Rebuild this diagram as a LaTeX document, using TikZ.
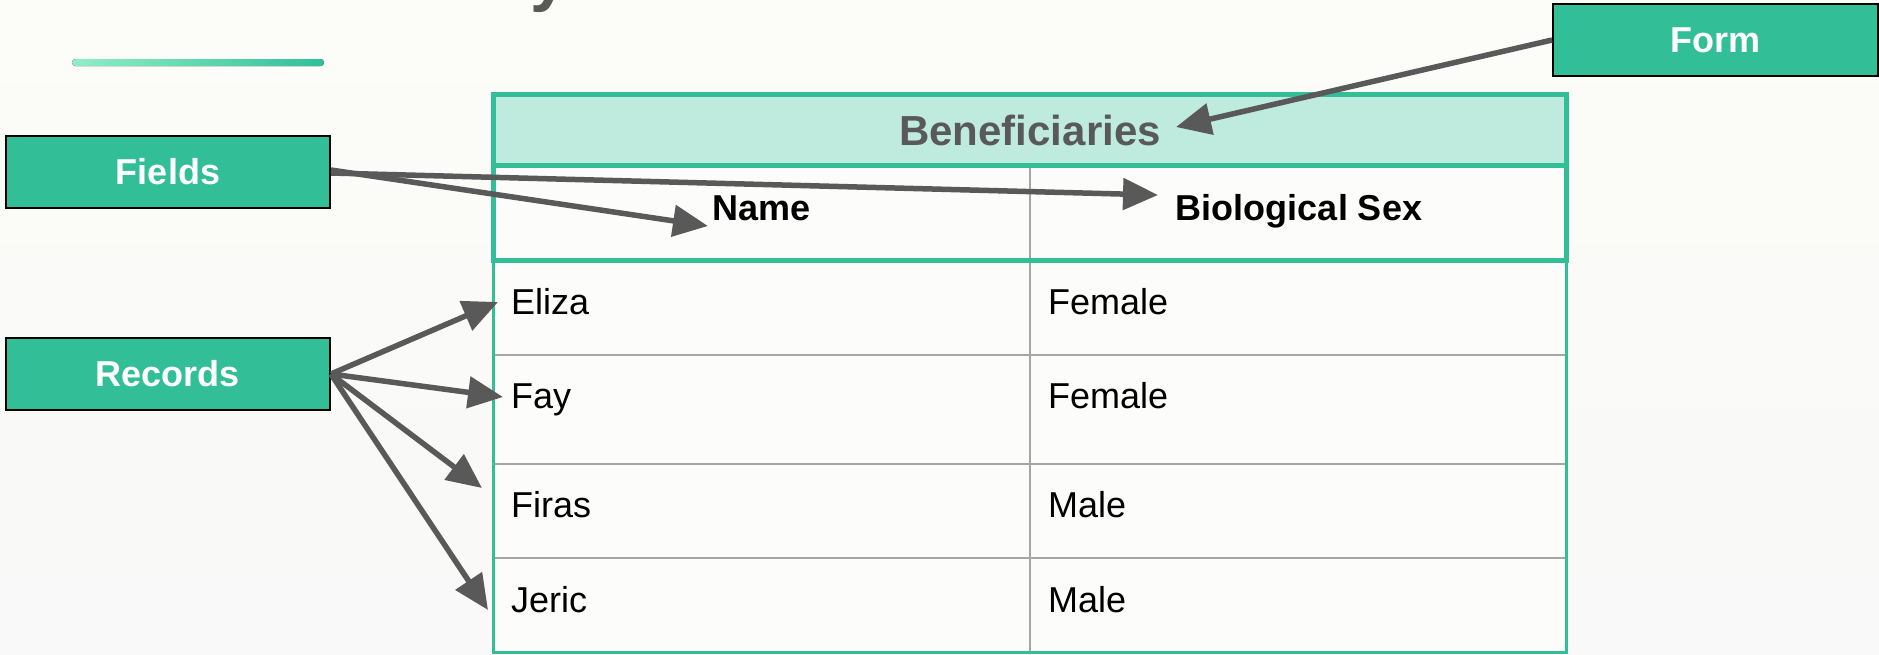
\documentclass[tikz,border=0pt]{standalone}
\usepackage{fontspec}
\setmainfont{Liberation Sans}
\usetikzlibrary{arrows.meta}
\definecolor{tgreen}{HTML}{32BF97}
\definecolor{mint}{HTML}{BFEBDE}
\definecolor{tgray}{HTML}{595959}
\definecolor{gridgray}{HTML}{A6A6A6}
\definecolor{bgtop}{HTML}{FCFDF8}
\definecolor{bgbot}{HTML}{F8F9F8}
\definecolor{cellbg}{HTML}{FCFCFA}
\definecolor{barlight}{HTML}{90EEC8}
\tikzset{
  labelbox/.style={draw=black, line width=1.8pt, fill=tgreen, text=white,
    font=\fontsize{36}{43}\selectfont\bfseries, minimum width=324pt,
    minimum height=72pt, inner sep=0pt},
  colhd/.style={inner sep=0pt, anchor=base, text=black,
    font=\fontsize{36}{43}\selectfont\bfseries},
  cell/.style={inner sep=0pt, anchor=base west, text=black,
    font=\fontsize{36}{43}\selectfont},
  pointer/.style={draw=tgray, line width=5.5pt,
    -{Triangle[length=35pt,width=31pt]}},
}
\begin{document}
\begin{tikzpicture}[x=1pt,y=-1pt]
\useasboundingbox (0,0) rectangle (1879,654);
\fill[top color=bgtop, bottom color=bgbot] (0,0) rectangle (1879,654);
% partially visible title
\begin{scope}
\clip (0,0) rectangle (1879,654);
\node[anchor=base west, inner sep=0pt, text=tgray,
  font=\fontsize{68}{76}\selectfont\bfseries] (title) at (88,-1.5) {Data Hierarchy};
\end{scope}
% title underline bar
\fill[left color=barlight, right color=tgreen, rounded corners=3.5pt]
  (72,59) rectangle (324,66);
% table
\fill[cellbg] (493,165) rectangle (1566,652);
\fill[mint] (493,94) rectangle (1566,165);
\draw[gridgray, line width=1.5pt] (1030,165) -- (1030,654);
\foreach \yy in {355,464,558}
  \draw[gridgray, line width=2pt] (493,\yy) -- (1566,\yy);
\draw[tgreen, line width=3pt] (493,260) -- (493,652) -- (1566,652) -- (1566,260);
\draw[tgreen, line width=5pt] (493,94) rectangle (1566,260);
\draw[tgreen, line width=5pt] (493,165) -- (1566,165);
% table texts
\node[inner sep=0pt, anchor=base, text=tgray,
  font=\fontsize{42}{50}\selectfont\bfseries] (benef) at (1030,145) {Beneficiaries};
\node[colhd] (name) at (762,220) {Name};
\node[colhd] (biosex) at (1299,220) {Biological Sex};
\node[cell] (eliza) at (511,314) {Eliza};
\node[cell] (elizasex) at (1048,314) {Female};
\node[cell] (fay) at (511,408) {Fay};
\node[cell] (faysex) at (1048,408) {Female};
\node[cell] (firas) at (511,517) {Firas};
\node[cell] (firassex) at (1048,517) {Male};
\node[cell] (jeric) at (511,612) {Jeric};
\node[cell] (jericsex) at (1048,612) {Male};
% label boxes
\node[labelbox, minimum width=325pt] (form) at (1715.5,40) {Form};
\node[labelbox] (fields) at (168,172) {Fields};
\node[labelbox] (records) at (168,374) {Records};
% arrow tips
\coordinate (tform) at (1176,127);
\coordinate (tname) at (708,226);
\coordinate (tsex) at (1158,195);
\coordinate (teliza) at (498,302);
\coordinate (tfay) at (503,397);
\coordinate (tfiras) at (482,488);
\coordinate (tjeric) at (488,610);
% arrows
\draw[pointer] (form.west) -- (tform);
\draw[pointer] ([yshift=-1pt]fields.east) -- (tsex);
\draw[pointer] ([yshift=2pt]fields.east) -- (tname);
\draw[pointer] (records.east) -- (teliza);
\draw[pointer] (records.east) -- (tfay);
\draw[pointer] (records.east) -- (tfiras);
\draw[pointer] (records.east) -- (tjeric);
\end{tikzpicture}
\end{document}
